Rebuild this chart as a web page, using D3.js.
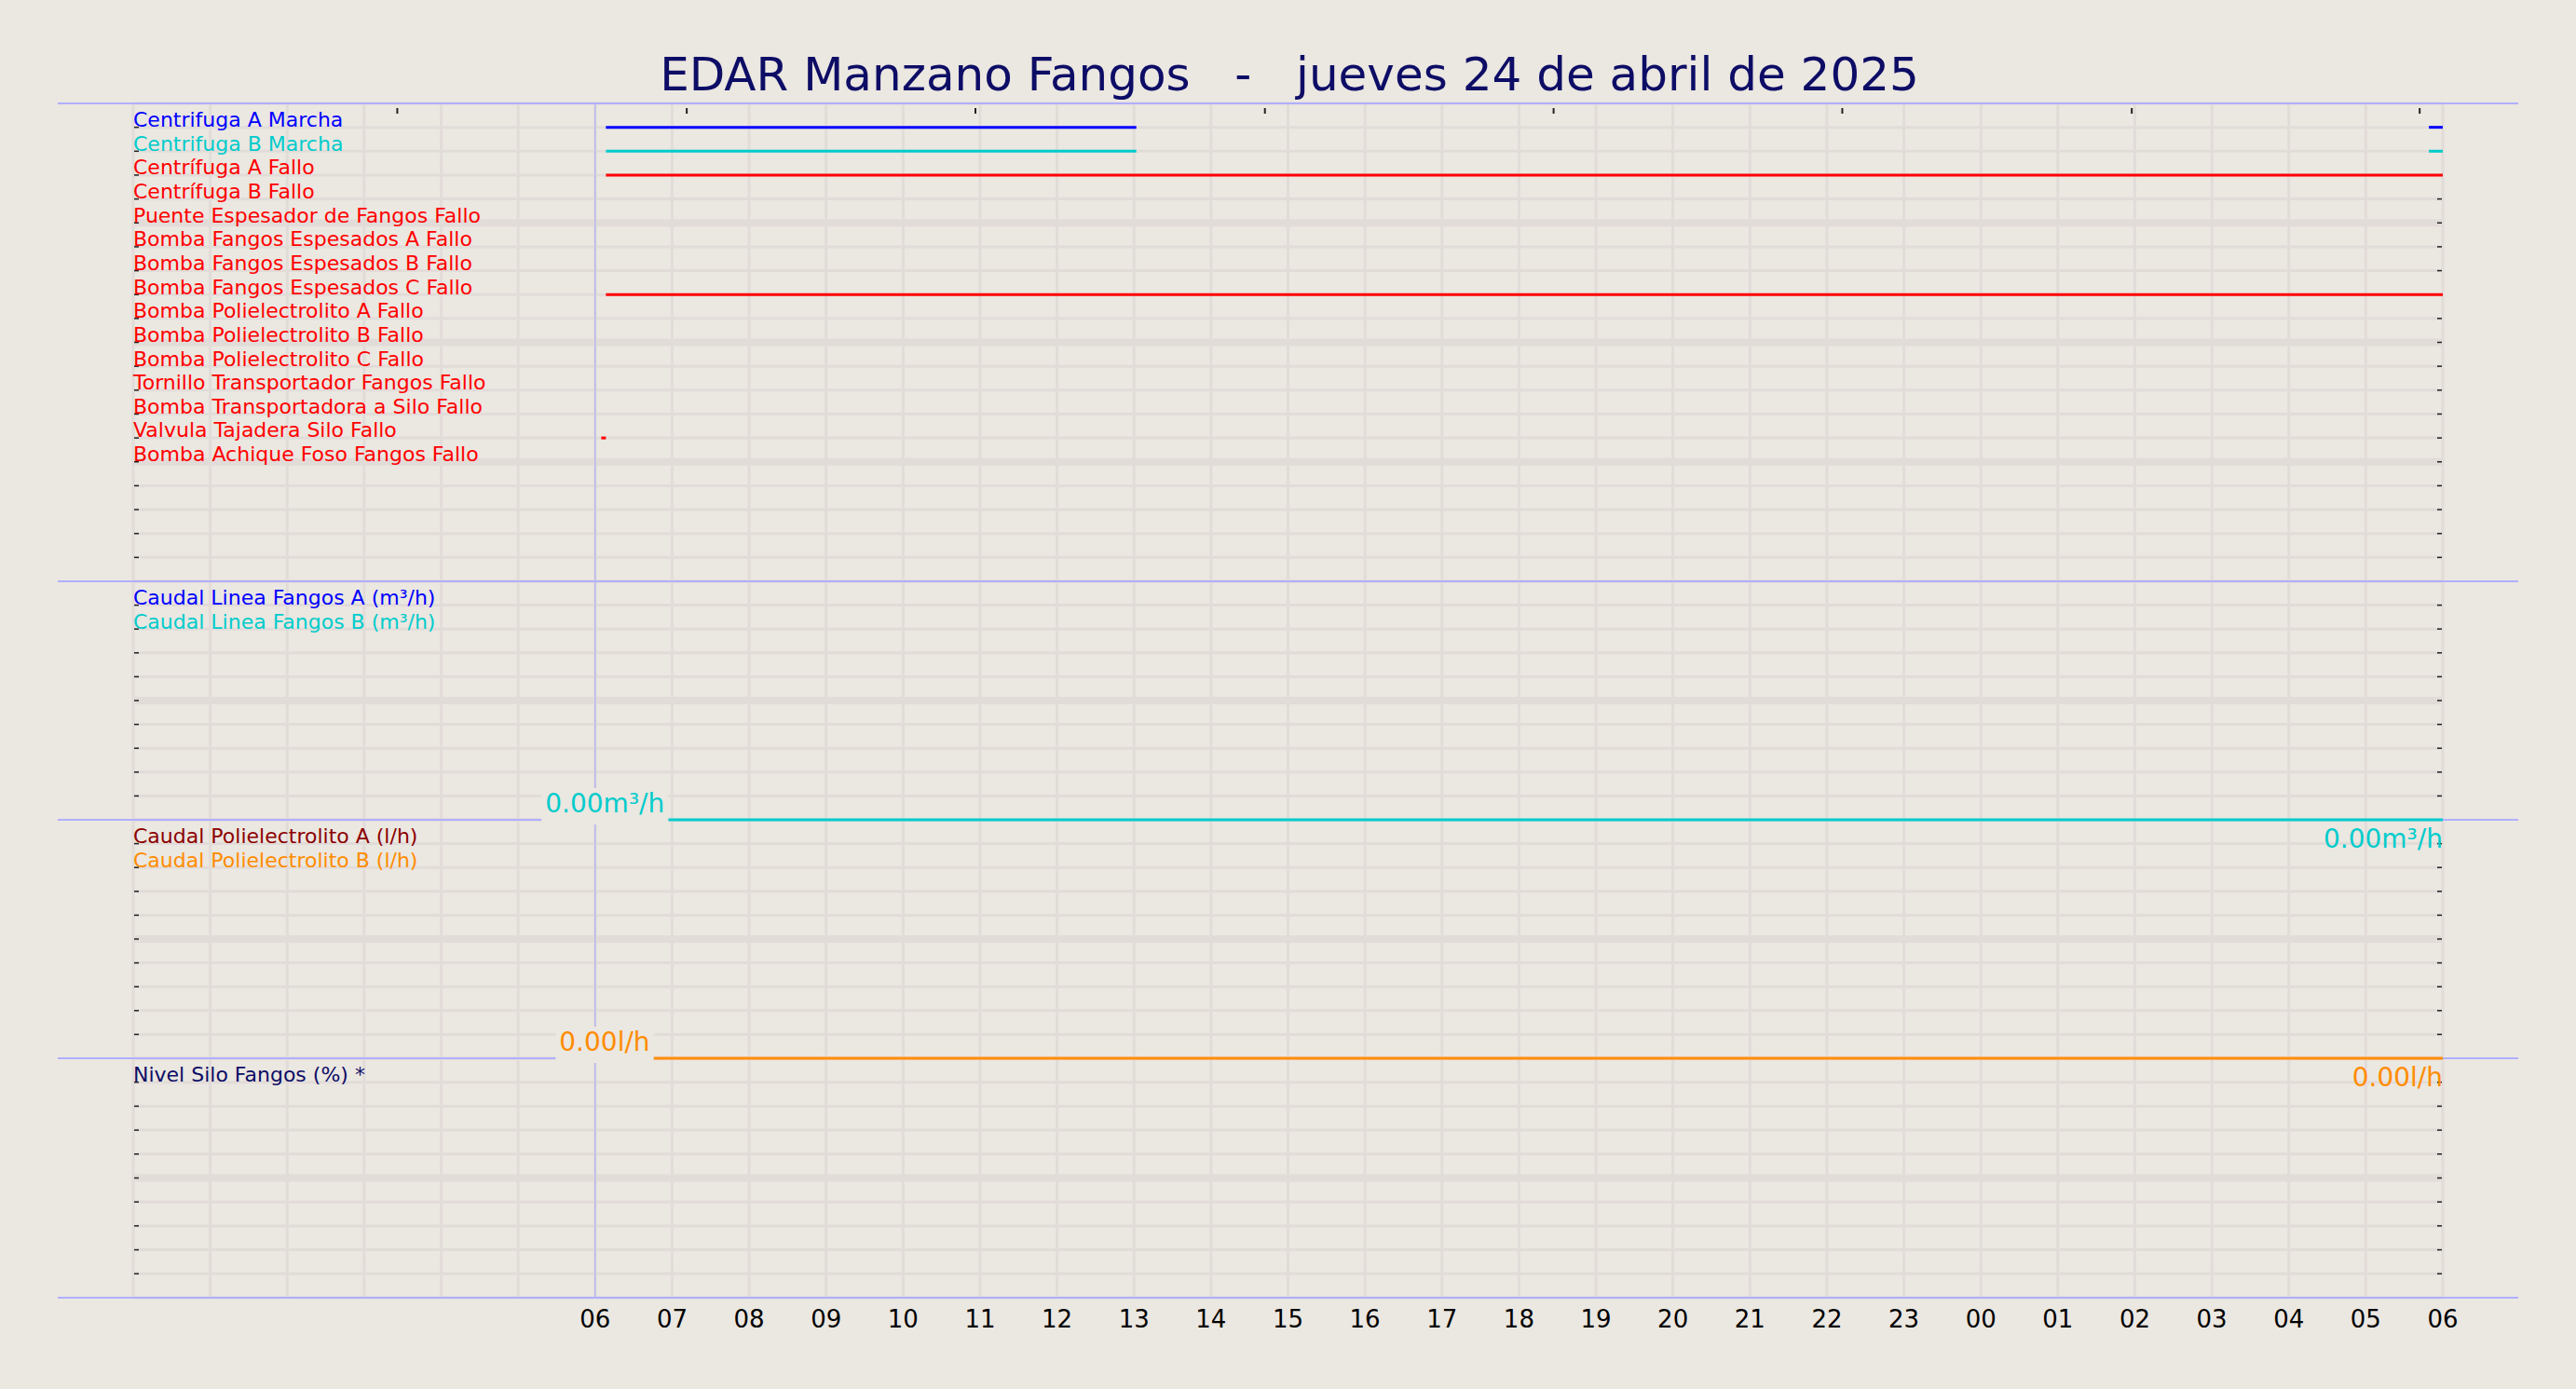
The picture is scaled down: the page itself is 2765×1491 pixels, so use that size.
<!DOCTYPE html>
<html><head><meta charset="utf-8">
<script src="https://cdn.jsdelivr.net/npm/d3@7"></script>
<style>body{margin:0;background:#ebe7e1}text{font-family:"DejaVu Sans",sans-serif}</style>
</head><body>
<script>
// digital signals, panel 1
const digitalNames = ['Centrifuga A Marcha','Centrifuga B Marcha','Centrífuga A Fallo','Centrífuga B Fallo',
  'Puente Espesador de Fangos Fallo','Bomba Fangos Espesados A Fallo','Bomba Fangos Espesados B Fallo',
  'Bomba Fangos Espesados C Fallo','Bomba Polielectrolito A Fallo','Bomba Polielectrolito B Fallo',
  'Bomba Polielectrolito C Fallo','Tornillo Transportador Fangos Fallo','Bomba Transportadora a Silo Fallo',
  'Valvula Tajadera Silo Fallo','Bomba Achique Foso Fangos Fallo']
const digitalColors = ['#0000ff','#00cccc','#ff0000','#ff0000','#ff0000','#ff0000','#ff0000','#ff0000',
  '#ff0000','#ff0000','#ff0000','#ff0000','#ff0000','#ff0000','#ff0000']
// active intervals, hours since 00:00 of the 24th
const digitalOn = [
  [[6.14,13.03],[29.82,30]],
  [[6.14,13.03],[29.82,30]],
  [[6.14,30]],[],[],[],[],
  [[6.14,30]],[],[],[],[],[],
  [[6.08,6.14]],[]
]
const flowNames = ['Caudal Linea Fangos A (m³/h)','Caudal Linea Fangos B (m³/h)']
const flowColors = ['#0000ff','#00cccc']
const flowB = [[6.95,0],[30,0]]
const polyNames = ['Caudal Polielectrolito A (l/h)','Caudal Polielectrolito B (l/h)']
const polyColors = ['#8b0000','#ff8c00']
const polyB = [[6.76,0],[30,0]]
const siloNames = ['Nivel Silo Fangos (%) *']
const hourLabels = ['06','07','08','09','10','11','12','13','14','15','16','17','18','19','20','21','22','23','00','01','02','03','04','05','06']
const topTickHours = [3.43,7.19,10.94,14.7,18.45,22.2,25.96,29.7]

const W = 2765, H = 1491
const svg = d3.select('body').append('svg').attr('width', W).attr('height', H)
svg.append('rect').attr('width', W).attr('height', H).attr('fill', '#ebe7e1')

const x = d3.scaleLinear().domain([0, 30]).range([143, 2622])
const panels = [
  {top: 111, bottom: 624, rows: 20},
  {top: 624, bottom: 880, rows: 10},
  {top: 880, bottom: 1136, rows: 10},
  {top: 1136, bottom: 1393, rows: 10}
]
panels.forEach(p => { p.y = d3.scaleLinear().domain([0, p.rows]).range([p.top, p.bottom]) })

const grid = svg.append('g')
// vertical grid
d3.range(0, 31).forEach(h => {
  grid.append('line').attr('x1', x(h)).attr('x2', x(h)).attr('y1', 111).attr('y2', 1393)
    .attr('stroke', '#e2dcd9').attr('stroke-width', 3)
})
panels.forEach(p => {
  d3.range(0, p.rows + 1).forEach(i => {
    const thick = i > 0 && i < p.rows && i % 5 === 0
    grid.append('line').attr('x1', x(0)).attr('x2', x(30)).attr('y1', p.y(i)).attr('y2', p.y(i))
      .attr('stroke', '#e2dcd9').attr('stroke-width', thick ? 8 : 3)
    if (i > 0 && i < p.rows) {
      grid.append('line').attr('x1', x(0) + 1).attr('x2', x(0) + 6).attr('y1', p.y(i)).attr('y2', p.y(i)).attr('stroke', '#222').attr('stroke-width', 1.5)
      grid.append('line').attr('x1', x(30) - 6).attr('x2', x(30) - 1).attr('y1', p.y(i)).attr('y2', p.y(i)).attr('stroke', '#222').attr('stroke-width', 1.5)
    }
  })
})
// separators
;[111, 624, 880, 1136, 1393].forEach(yy => {
  svg.append('line').attr('x1', 62).attr('x2', 2703).attr('y1', yy).attr('y2', yy).attr('stroke', '#b0b0ff').attr('stroke-width', 2)
})
svg.append('line').attr('x1', x(6)).attr('x2', x(6)).attr('y1', 111).attr('y2', 1393).attr('stroke', '#b8b8f0').attr('stroke-width', 1.5)
topTickHours.forEach(h => {
  svg.append('line').attr('x1', x(h)).attr('x2', x(h)).attr('y1', 116).attr('y2', 122).attr('stroke', '#222').attr('stroke-width', 2)
})

// title
svg.append('text').attr('x', 1384).attr('y', 97).attr('text-anchor', 'middle').attr('font-size', 50)
  .attr('fill', '#0d0d66').attr('xml:space', 'preserve').text('EDAR Manzano Fangos   -   jueves 24 de abril de 2025')

// panel 1
const p1 = panels[0]
digitalNames.forEach((n, i) => {
  svg.append('text').attr('x', 143).attr('y', p1.y(i) + 25).attr('font-size', 22).attr('fill', digitalColors[i]).text(n)
  digitalOn[i].forEach(s => {
    svg.append('line').attr('x1', x(s[0])).attr('x2', x(s[1])).attr('y1', p1.y(i + 1)).attr('y2', p1.y(i + 1))
      .attr('stroke', digitalColors[i]).attr('stroke-width', 3)
  })
})

function legend (p, names, colors) {
  names.forEach((n, i) => {
    svg.append('text').attr('x', 143).attr('y', p.y(i) + 25).attr('font-size', 22).attr('fill', colors[i]).text(n)
  })
}
legend(panels[1], flowNames, flowColors)
legend(panels[2], polyNames, polyColors)
legend(panels[3], siloNames, ['#0d0d66'])

function valueLine (p, data, color, label) {
  const y = d3.scaleLinear().domain([0, 1]).range([p.bottom, p.top])
  svg.append('path').datum(data).attr('d', d3.line().x(d => x(d[0])).y(d => y(d[1])))
    .attr('fill', 'none').attr('stroke', color).attr('stroke-width', 3)
  const t = svg.append('text').attr('x', x(data[0][0]) - 4).attr('y', y(0) - 8).attr('text-anchor', 'end')
    .attr('font-size', 28).attr('fill', color).text(label)
  const bb = t.node().getBBox()
  svg.insert('rect', () => t.node()).attr('x', bb.x - 4).attr('y', bb.y).attr('width', bb.width + 8).attr('height', bb.height + 6).attr('fill', '#ebe7e1')
  svg.append('text').attr('x', x(30)).attr('y', y(0) + 30).attr('text-anchor', 'end')
    .attr('font-size', 28).attr('fill', color).text(label)
}
valueLine(panels[1], flowB, '#00cccc', '0.00m³/h')
valueLine(panels[2], polyB, '#ff8c00', '0.00l/h')

// bottom hour axis
hourLabels.forEach((l, i) => {
  svg.append('text').attr('x', x(6 + i)).attr('y', 1425).attr('text-anchor', 'middle').attr('font-size', 26).attr('fill', '#000').text(l)
})
</script>
</body></html>
